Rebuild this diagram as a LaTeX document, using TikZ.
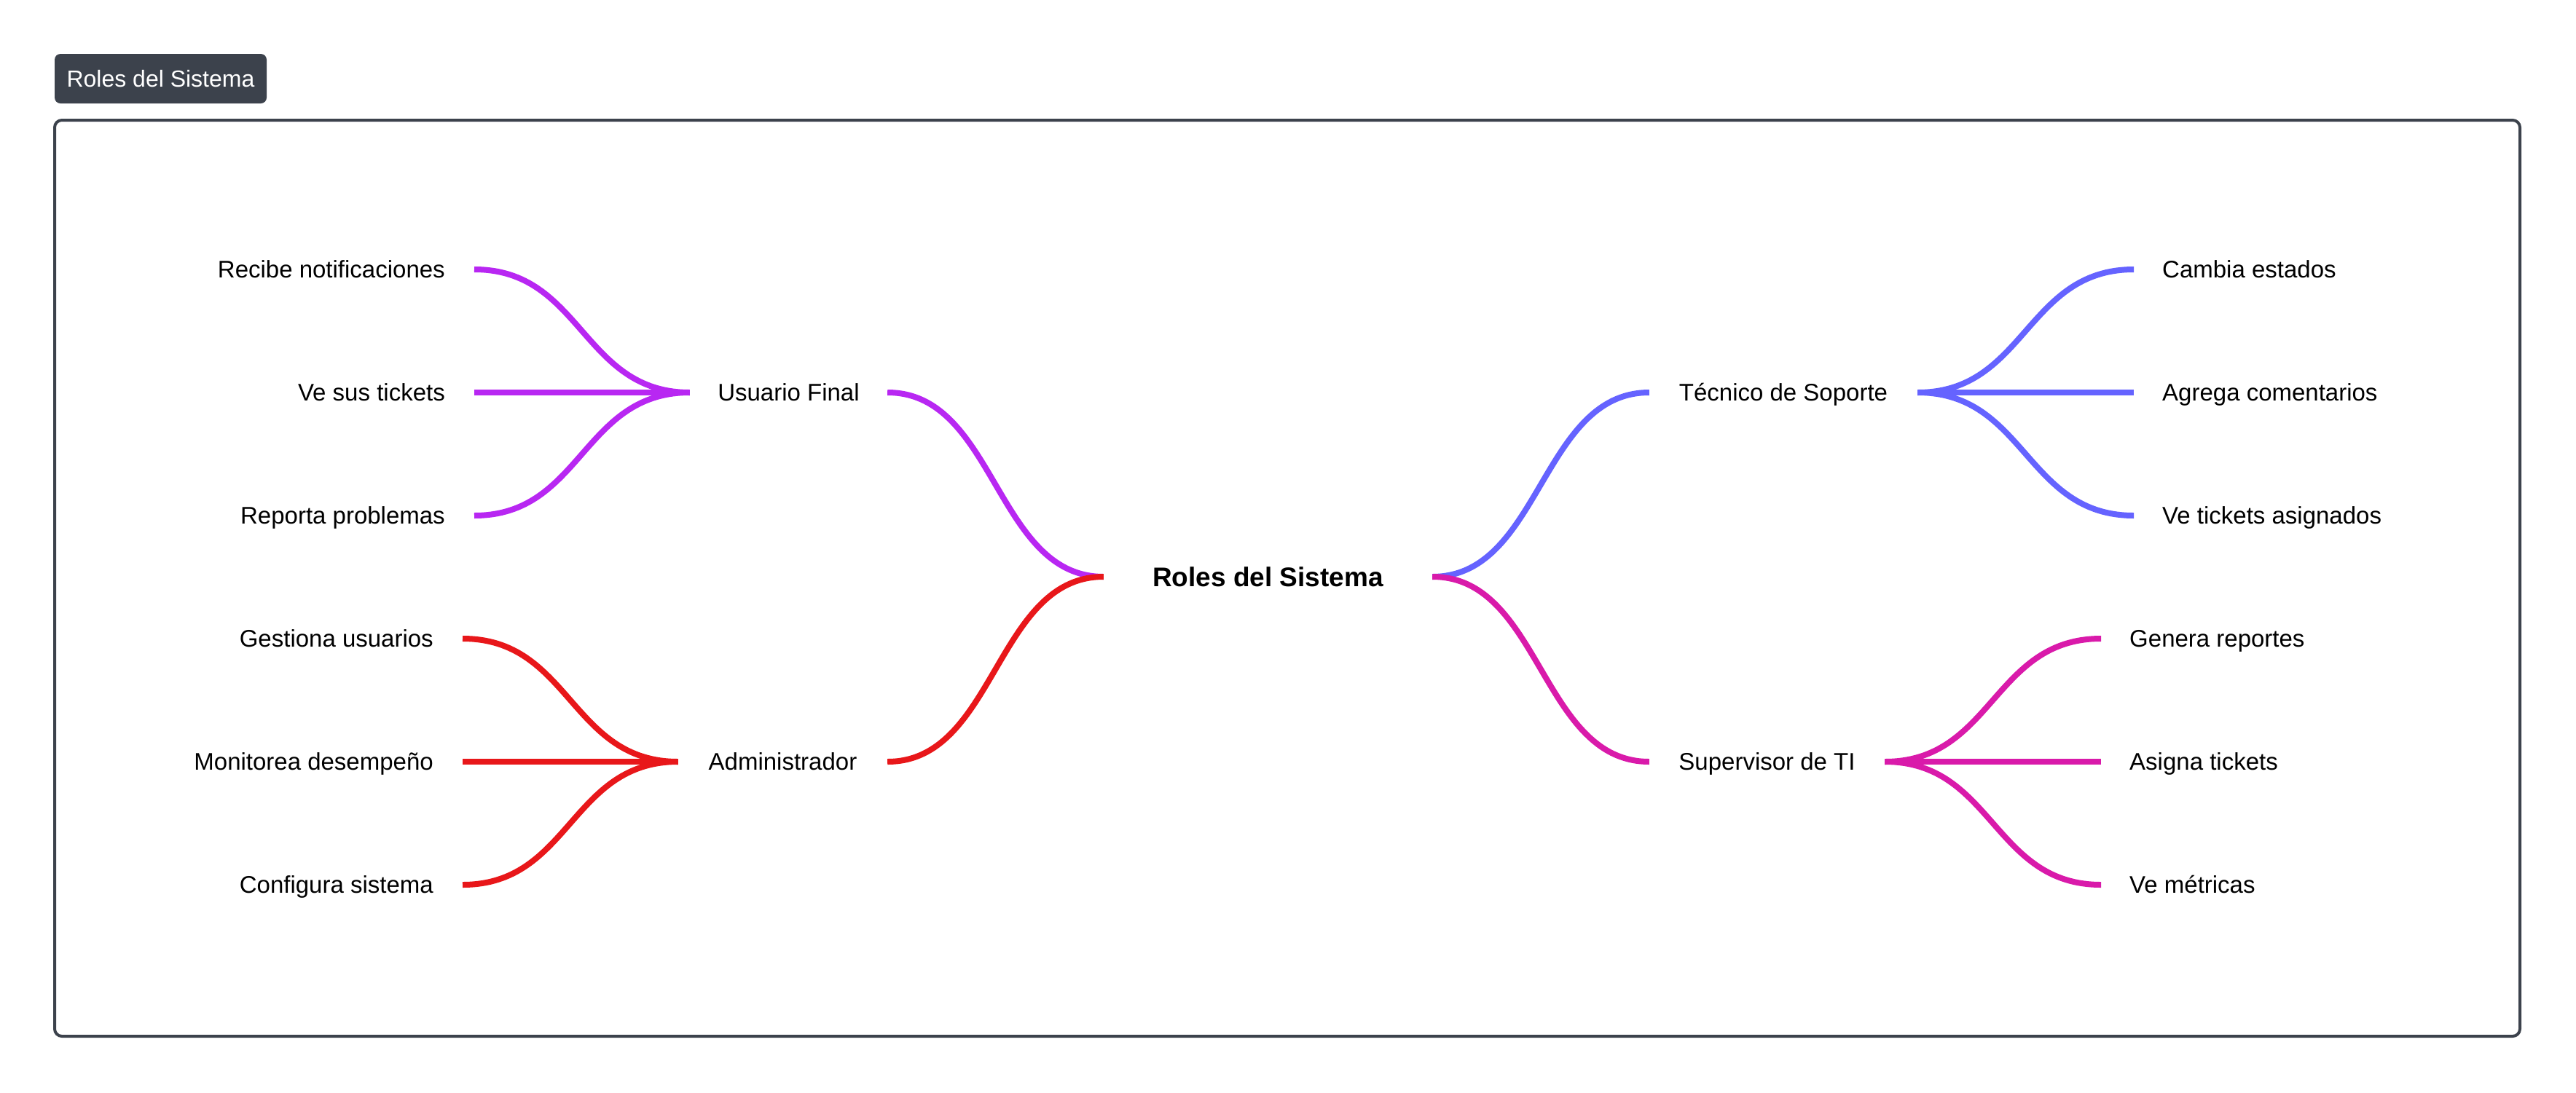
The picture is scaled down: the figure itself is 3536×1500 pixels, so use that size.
\documentclass[tikz,border=0pt]{standalone}
\usepackage{fontspec}
\setmainfont{Liberation Sans}
\usetikzlibrary{calc}
\definecolor{cU}{HTML}{B827F2}
\definecolor{cA}{HTML}{E8171A}
\definecolor{cT}{HTML}{6563FF}
\definecolor{cS}{HTML}{D91AAA}
\definecolor{slate}{HTML}{3C424C}
\newcommand\curvelink[3]{\draw[link,#1] let \p1=(#2), \p2=(#3) in (\p1) .. controls ({(\x1+\x2)/2},\y1) and ({(\x1+\x2)/2},\y2) .. (\p2);}
\begin{document}
\begin{tikzpicture}[x=1pt,y=-1pt,
  lbl/.style={font=\fontsize{33}{40}\selectfont, inner ysep=0pt, text=black, text height=23.6pt, text depth=0pt},
  leafL/.style={lbl, anchor=east, inner xsep=40pt},
  leafR/.style={lbl, anchor=west, inner xsep=39pt},
  role/.style={lbl, inner xsep=0pt},
  link/.style={line width=8pt, line cap=butt},
  frame/.style={draw=slate, line width=4pt, rounded corners=10pt},
  tabbox/.style={fill=slate, rounded corners=8pt, text=white, inner sep=0pt,
    text height=23pt, text depth=0pt,
    font=\fontsize{32}{38}\selectfont, minimum width=291pt, minimum height=68pt}
]
\useasboundingbox (0,0) rectangle (3536,1500);
\draw[frame] (75,165) rectangle (3459,1423);
\node[tabbox] (tab) at (220.5,108) {Roles del Sistema};

\node[role, font=\fontsize{37}{44}\selectfont\bfseries, text height=26.5pt, minimum width=451pt] (root) at (1740.5,792) {Roles del Sistema};
\node[role, minimum width=271pt] (uf) at (1082.5,539) {Usuario Final};
\node[role, minimum width=287pt] (ad) at (1074.5,1046) {Administrador};
\node[role, minimum width=368pt] (ts) at (2448,539) {Técnico de Soporte};
\node[role, minimum width=323pt] (st) at (2425.5,1046) {Supervisor de TI};

\node[leafL] (u1) at (651,370) {Recibe notificaciones};
\node[leafL] (u2) at (651,539) {Ve sus tickets};
\node[leafL] (u3) at (651,708) {Reporta problemas};
\node[leafL] (a1) at (635,877) {Gestiona usuarios};
\node[leafL] (a2) at (635,1046) {Monitorea desempeño};
\node[leafL] (a3) at (635,1215) {Configura sistema};
\node[leafR] (t1) at (2929,370) {Cambia estados};
\node[leafR] (t2) at (2929,539) {Agrega comentarios};
\node[leafR] (t3) at (2929,708) {Ve tickets asignados};
\node[leafR] (s1) at (2884,877) {Genera reportes};
\node[leafR] (s2) at (2884,1046) {Asigna tickets};
\node[leafR] (s3) at (2884,1215) {Ve métricas};

\curvelink{cU}{uf.east}{root.west}
\curvelink{cA}{ad.east}{root.west}
\curvelink{cT}{root.east}{ts.west}
\curvelink{cS}{root.east}{st.west}

\curvelink{cU}{u1.east}{uf.west}
\curvelink{cU}{u2.east}{uf.west}
\curvelink{cU}{u3.east}{uf.west}
\curvelink{cA}{a1.east}{ad.west}
\curvelink{cA}{a2.east}{ad.west}
\curvelink{cA}{a3.east}{ad.west}
\curvelink{cT}{ts.east}{t1.west}
\curvelink{cT}{ts.east}{t2.west}
\curvelink{cT}{ts.east}{t3.west}
\curvelink{cS}{st.east}{s1.west}
\curvelink{cS}{st.east}{s2.west}
\curvelink{cS}{st.east}{s3.west}
\end{tikzpicture}
\end{document}
